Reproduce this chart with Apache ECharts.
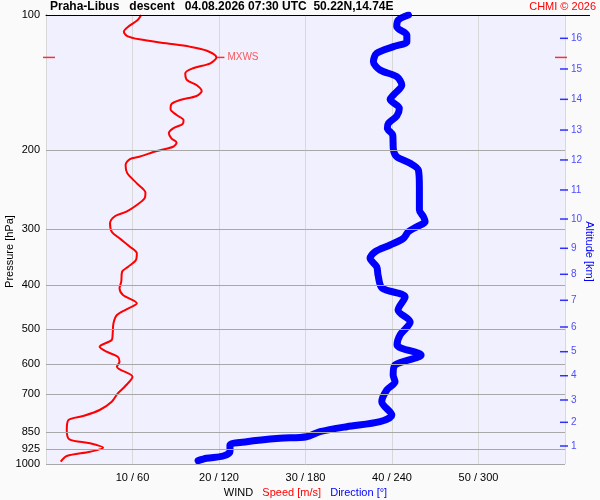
<!DOCTYPE html>
<html>
<head>
<meta charset="utf-8">
<script src="https://cdn.jsdelivr.net/npm/echarts@6/dist/echarts.min.js"></script>
<style>html,body{margin:0;padding:0;background:#fafafa}#c{width:600px;height:500px}</style>
</head>
<body>
<div id="c"></div>
<script>
// ---- data ----
const pressureLevels = [100, 200, 300, 400, 500, 600, 700, 850, 925, 1000];
const speedTicks = [10, 20, 30, 40, 50];
const directionTicks = [60, 120, 180, 240, 300];

const speedPressure = [100, 102.6, 106.2, 108.9, 111.4, 113.3, 115.6, 117.6, 120.1, 124.3, 128.1, 131.4, 134.8, 139.6, 143.2, 147.7, 151.5, 154.6, 157.9, 162.2, 167.0, 171.4, 174.9, 178.8, 183.4, 188.2, 192.5, 196.5, 200.9, 206.8, 209.3, 215.8, 225.2, 237.1, 248.8, 256.0, 265.0, 274.2, 280.3, 291.0, 303.8, 314.3, 328.1, 339.4, 351.3, 363.6, 373.0, 392.6, 406.2, 420.4, 438.6, 452.3, 465.8, 486.0, 516.1, 529.5, 548.0, 562.2, 576.8, 591.8, 607.2, 639.1, 672.8, 695.9, 726.5, 758.1, 781.8, 798.0, 840.0, 881.0, 899.3, 919.8, 938.9, 959.8, 988.3];
const speedValues = [11.0, 10.6, 9.5, 9.0, 9.4, 10.8, 13.9, 16.6, 18.6, 19.7, 19.0, 17.0, 16.1, 16.3, 17.4, 18.0, 17.4, 15.5, 14.5, 14.4, 15.1, 15.9, 15.8, 14.7, 14.2, 14.5, 15.1, 14.7, 12.8, 10.8, 9.7, 9.2, 9.4, 10.5, 11.5, 11.4, 10.5, 9.3, 8.0, 7.4, 7.6, 8.5, 9.7, 10.5, 10.4, 9.5, 8.8, 8.7, 8.5, 8.9, 10.5, 9.3, 8.2, 7.8, 7.7, 7.6, 6.2, 7.0, 8.3, 8.5, 8.2, 10.0, 9.1, 8.3, 7.6, 6.2, 4.3, 2.6, 2.4, 2.7, 5.1, 6.6, 5.1, 2.4, 1.7];

const dirPressure = [100, 102.6, 106.2, 110.8, 114.7, 117.6, 121.7, 127.1, 132.6, 137.2, 143.2, 150.7, 154.1, 161.4, 167.9, 174.3, 178.8, 185.0, 199.8, 206.8, 213.9, 221.4, 241.2, 271.8, 281.3, 288.6, 296.2, 303.8, 314.3, 325.3, 336.7, 348.3, 363.6, 379.4, 405.5, 424.7, 454.0, 482.8, 516.1, 543.2, 571.8, 601.9, 633.6, 655.7, 684.2, 726.5, 777.8, 805.0, 825.9, 847.4, 869.4, 876.5, 891.9, 907.2, 938.9, 959.8, 971.2, 983.2];
const dirValues = [251.4, 244.4, 243.3, 250.3, 250.3, 241.0, 229.4, 227.1, 231.7, 243.3, 246.8, 241.0, 238.7, 245.1, 243.3, 237.5, 236.8, 240.5, 241.0, 243.3, 252.6, 258.3, 259.0, 259.0, 261.8, 263.0, 257.2, 251.4, 247.9, 238.7, 228.3, 224.8, 229.4, 230.3, 233.1, 249.1, 244.2, 252.6, 245.6, 243.5, 260.2, 242.1, 240.8, 242.1, 236.4, 232.9, 239.9, 231.7, 208.6, 190.1, 180.8, 162.3, 139.2, 127.6, 127.6, 122.9, 111.4, 105.5];

const altitudeKm = [1, 2, 3, 4, 5, 6, 7, 8, 9, 10, 11, 12, 13, 14, 15, 16];
const altitudePressure = [911.8, 807.5, 720.2, 635.9, 562.2, 495.3, 431.9, 378.0, 330.8, 284.7, 245.3, 210.3, 180.4, 154.1, 131.9, 112.7];

const mxwsSpeed = 19.7;
const mxwsPressure = 124.3;

// ---- chart ----
const FONT = 'Liberation Sans, Arial, sans-serif';
const chart = echarts.init(document.getElementById('c'), null, {renderer: 'canvas'});

const speedData = speedValues.map((v, i) => [v, speedPressure[i]]);
const dirData = dirValues.map((v, i) => [v, dirPressure[i]]);
const speedMax = 60, dirMax = 360;

const option = {
  backgroundColor: '#fafafa',
  animation: false,
  title: [
    {text: 'Praha-Libus   descent   04.08.2026 07:30 UTC  50.22N,14.74E', left: 50, top: 1, padding: 0,
     textStyle: {fontFamily: FONT, fontSize: 12, fontWeight: 'bold', color: '#000'}},
    {text: 'CHMI © 2026', right: 4, top: 1, padding: 0,
     textStyle: {fontFamily: FONT, fontSize: 11, fontWeight: 'normal', color: '#ff0000'}}
  ],
  grid: {left: 46, right: 35, top: 15, bottom: 36, show: true, backgroundColor: '#f0f0ff', borderWidth: 0,
         containLabel: false, outerBoundsMode: 'none'},
  xAxis: [
    {type: 'value', position: 'bottom', min: 0, max: speedMax, interval: 10,
     axisLine: {show: false}, axisTick: {show: false},
     splitLine: {show: true, lineStyle: {color: '#d8d8d8', width: 1}},
     axisLabel: {fontFamily: FONT, fontSize: 11, color: '#000', margin: 8,
       formatter: v => { const i = speedTicks.indexOf(v); return i < 0 ? '' : speedTicks[i] + ' / ' + directionTicks[i]; }},
     name: '{k|WIND}   {r|Speed [m/s]}   {b|Direction [°]}', nameLocation: 'middle', nameGap: 21,
     nameTextStyle: {fontFamily: FONT, fontSize: 11,
       rich: {k: {color: '#000', fontFamily: FONT, fontSize: 11}, r: {color: '#ff0000', fontFamily: FONT, fontSize: 11}, b: {color: '#0000ff', fontFamily: FONT, fontSize: 11}}}},
    {type: 'value', position: 'top', min: 0, max: dirMax,
     axisLine: {show: true, lineStyle: {color: '#000', width: 1}}, axisTick: {show: false},
     axisLabel: {show: false}, splitLine: {show: false}}
  ],
  yAxis: [
    {type: 'log', logBase: 10, min: 100, max: 1000, inverse: true, position: 'left',
     axisLine: {show: true, lineStyle: {color: '#000', width: 1}}, axisTick: {show: false},
     axisLabel: {show: false}, splitLine: {show: false},
     name: 'Pressure [hPa]', nameLocation: 'middle', nameGap: 31, nameRotate: 90,
     nameTextStyle: {fontFamily: FONT, fontSize: 11, color: '#000', padding: [0, 24, 0, 0]}},
    {type: 'log', logBase: 10, min: 100, max: 1000, inverse: true, position: 'right',
     axisLine: {show: true, lineStyle: {color: '#d8d8d8', width: 1}}, axisTick: {show: false},
     axisLabel: {show: false}, splitLine: {show: false},
     name: 'Altitude [km]', nameLocation: 'middle', nameGap: 19, nameRotate: -90,
     nameTextStyle: {fontFamily: FONT, fontSize: 11, color: '#0000ff', padding: [0, 0, 0, 24]}}
  ],
  graphic: [
    {type: 'line', shape: {x1: 565, y1: 15.5, x2: 590, y2: 15.5}, style: {stroke: '#000', lineWidth: 1}, z: 10}
  ],
  series: [
    {name: 'speed', type: 'line', xAxisIndex: 0, yAxisIndex: 0, data: speedData,
     showSymbol: false, smooth: 0.3, lineStyle: {color: '#ff0000', width: 2}, itemStyle: {color: '#ff0000'}, z: 3,
     markLine: {silent: true, symbol: ['none', 'none'], animation: false,
       label: {show: true, position: 'start', distance: 6, formatter: p => String(p.value),
               fontFamily: FONT, fontSize: 11, color: '#000'},
       lineStyle: {color: '#a8a8a8', width: 1, type: 'solid'},
       data: pressureLevels.map(p => ({yAxis: p, lineStyle: p === 100 ? {color: '#000', width: 1, type: 'solid'} : undefined}))}},
    {name: 'direction', type: 'line', xAxisIndex: 1, yAxisIndex: 0, data: dirData,
     showSymbol: false, smooth: 0.3, lineStyle: {color: '#0000ff', width: 7, cap: 'round', join: 'round'}, itemStyle: {color: '#0000ff'}, z: 4},
    {name: 'altitude', type: 'scatter', xAxisIndex: 0, yAxisIndex: 0, clip: false, silent: true,
     data: altitudePressure.map(p => [speedMax, p]),
     symbol: 'rect', symbolSize: [8, 1.5], symbolOffset: [-1, 0], itemStyle: {color: '#0000ff'},
     label: {show: true, position: 'right', distance: 3, formatter: p => String(altitudeKm[p.dataIndex]),
             fontFamily: FONT, fontSize: 10, color: '#2020ff'}, z: 5},
    {name: 'mxws', type: 'scatter', xAxisIndex: 0, yAxisIndex: 0, clip: false, silent: true,
     data: [
       {value: [mxwsSpeed, mxwsPressure], symbolOffset: [4, 0], label: {show: true}},
       {value: [0, mxwsPressure], symbolSize: [12, 1.5], symbolOffset: [3, 0]},
       {value: [speedMax, mxwsPressure], symbolSize: [12, 1.5], symbolOffset: [-4, 0]}
     ],
     symbol: 'rect', symbolSize: [8, 1.5], itemStyle: {color: '#ff0000'},
     label: {show: false, position: 'right', distance: 3, formatter: 'MXWS', fontFamily: FONT, fontSize: 10, color: '#ff3030'}, z: 6}
  ]
};
chart.setOption(option);
</script>
</body>
</html>
